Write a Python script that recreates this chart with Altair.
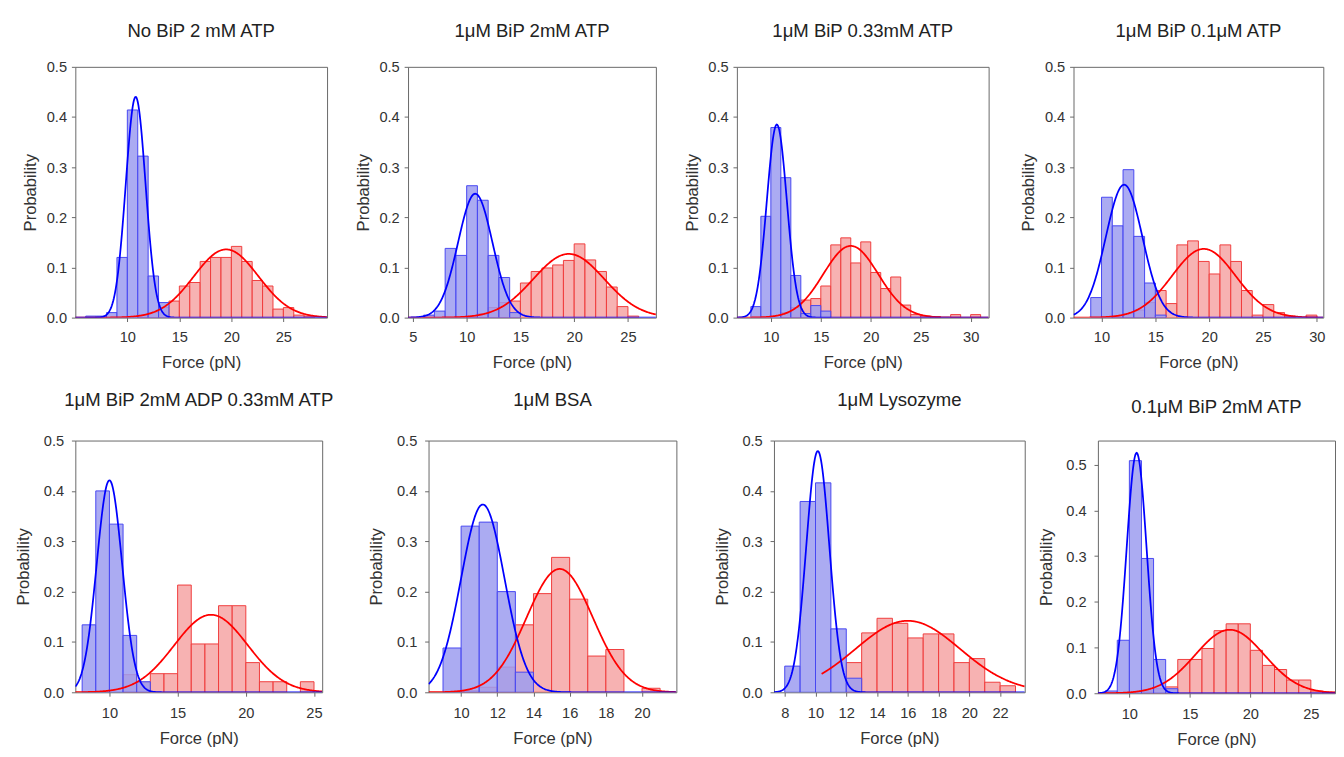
import altair as alt
import numpy as np
import pandas as pd

FONT = "Liberation Sans"

titles = ["No BiP 2 mM ATP", "1\u03bcM BiP 2mM ATP", "1\u03bcM BiP 0.33mM ATP", "1\u03bcM BiP 0.1\u03bcM ATP",
          "1\u03bcM BiP 2mM ADP 0.33mM ATP", "1\u03bcM BSA", "1\u03bcM Lysozyme", "0.1\u03bcM BiP 2mM ATP"]

x_domains = [[5.0, 29.2], [4.55, 27.6], [6.6, 31.8], [7.4, 30.6],
             [7.5, 25.6], [8.2, 21.9], [7.3, 23.6], [7.4, 27.0]]
x_ticks = [[10, 15, 20, 25], [5, 10, 15, 20, 25], [10, 15, 20, 25, 30], [10, 15, 20, 25, 30],
           [10, 15, 20, 25], [10, 12, 14, 16, 18, 20], [8, 10, 12, 14, 16, 18, 20, 22], [10, 15, 20, 25]]
y_tops = [0.5, 0.5, 0.5, 0.5, 0.5, 0.5, 0.5, 0.553]
y_ticks = [0.0, 0.1, 0.2, 0.3, 0.4, 0.5]

# histogram bins (width 1 pN), first bin start and probabilities
blue_start = [6, 6, 8, 9, 8, 9, 8, 8]
blue_prob = [
    [0.003, 0.003, 0.01, 0.12, 0.414, 0.322, 0.083, 0.03],
    [0.005, 0.013, 0.138, 0.124, 0.263, 0.234, 0.124, 0.08, 0.01],
    [0.022, 0.202, 0.379, 0.279, 0.084, 0.008, 0.024, 0.013],
    [0.04, 0.24, 0.183, 0.295, 0.162, 0.069, 0.005],
    [0.134, 0.4, 0.334, 0.113, 0.021],
    [0.088, 0.33, 0.338, 0.2, 0.04],
    [0.052, 0.379, 0.416, 0.126, 0.028],
    [0.005, 0.116, 0.509, 0.295, 0.074, 0.01],
]
red_start = [11, 10, 11, 11, 11, 10, 12, 11]
red_prob = [
    [0.005, 0.01, 0.02, 0.033, 0.063, 0.07, 0.112, 0.12, 0.12, 0.142, 0.112, 0.074, 0.063, 0.017, 0.02, 0.005, 0.003],
    [0.003, 0.008, 0.02, 0.03, 0.033, 0.069, 0.092, 0.099, 0.105, 0.114, 0.147, 0.115, 0.092, 0.061, 0.022, 0.003],
    [0.01, 0.02, 0.035, 0.038, 0.063, 0.145, 0.159, 0.109, 0.151, 0.09, 0.058, 0.081, 0.025, 0.006, 0.003, 0.002, 0, 0.006, 0, 0.006],
    [0.003, 0.008, 0.015, 0.03, 0.054, 0.028, 0.145, 0.153, 0.112, 0.087, 0.145, 0.112, 0.054, 0.005, 0.026, 0.01, 0.003, 0, 0.005],
    [0.035, 0.02, 0.037, 0.037, 0.213, 0.096, 0.096, 0.172, 0.172, 0.059, 0.021, 0.021, 0, 0.021],
    [0.003, 0.01, 0.05, 0.134, 0.196, 0.268, 0.185, 0.072, 0.085, 0, 0.008],
    [0.059, 0.118, 0.147, 0.137, 0.108, 0.116, 0.116, 0.059, 0.067, 0.02, 0.013],
    [0.005, 0.01, 0.014, 0.074, 0.074, 0.098, 0.137, 0.152, 0.152, 0.094, 0.061, 0.052, 0.029, 0.029, 0.005, 0.003],
]

# Gaussian fit parameters
blue_fit_mean = [10.8, 10.8, 10.6, 12.1, 10.0, 11.2, 10.15, 10.6]
blue_fit_sd = [0.95, 1.6, 1.0, 1.7, 0.93, 1.2, 0.75, 0.82]
blue_fit_peak = [0.44, 0.247, 0.385, 0.265, 0.421, 0.373, 0.479, 0.526]
red_fit_mean = [19.5, 19.5, 18.0, 19.5, 17.45, 15.45, 16.0, 18.3]
red_fit_sd = [3.1, 3.3, 2.75, 2.96, 2.7, 1.83, 3.4, 2.85]
red_fit_peak = [0.136, 0.127, 0.143, 0.137, 0.154, 0.245, 0.142, 0.139]
red_fit_from = [5.0, 4.55, 6.6, 7.4, 7.5, 8.2, 10.4, 7.4]

BLUE_LINE, BLUE_FILL, BLUE_EDGE = "#0000ff", "#9c9cf0", "#4646f2"
RED_LINE, RED_FILL, RED_EDGE = "#ff0000", "#f6a4a4", "#f03c3c"

widths = [258, 254, 258, 256, 253, 254, 257, 243]
heights = [257, 257, 257, 257, 258, 258, 258, 259]
title_offsets = [20, 20, 20, 20, 24, 24, 24, 24]


def bars_df(start, probs):
    rows = []
    for k, p in enumerate(probs):
        if p > 0:
            rows.append({"x": start + k, "x_end": start + k + 1, "p": p})
    return pd.DataFrame(rows)


def fit_df(mean, sd, peak, lo, hi):
    xs = np.linspace(lo, hi, 400)
    return pd.DataFrame({"x": xs, "p": peak * np.exp(-0.5 * ((xs - mean) / sd) ** 2)})


def panel(i, row):
    dom = x_domains[i]
    xs = alt.Scale(domain=dom, nice=False, zero=False)
    ys = alt.Scale(domain=[0, y_tops[i]], nice=False, zero=True)
    xaxis = alt.Axis(values=x_ticks[i], title="Force (pN)", format="d",
                     labelPadding=8 if row == 1 else 10, titlePadding=11 if row == 1 else 10)
    yaxis = alt.Axis(values=y_ticks, title="Probability", format=".1f",
                     labelPadding=5 if row == 1 else 8, titlePadding=7 if row == 1 else 11)
    X = alt.X("x:Q", scale=xs, axis=xaxis)
    Y = alt.Y("p:Q", scale=ys, axis=yaxis)

    rb = alt.Chart(bars_df(red_start[i], red_prob[i])).mark_rect(
        fill=RED_FILL, stroke=RED_EDGE, strokeWidth=1, fillOpacity=0.85, clip=True
    ).encode(x=X, x2="x_end:Q", y=Y, y2=alt.datum(0))
    bb = alt.Chart(bars_df(blue_start[i], blue_prob[i])).mark_rect(
        fill=BLUE_FILL, stroke=BLUE_EDGE, strokeWidth=1, fillOpacity=0.85, clip=True
    ).encode(x=X, x2="x_end:Q", y=Y, y2=alt.datum(0))
    rl = alt.Chart(fit_df(red_fit_mean[i], red_fit_sd[i], red_fit_peak[i], red_fit_from[i], dom[1])).mark_line(
        color=RED_LINE, strokeWidth=1.8, clip=True
    ).encode(x=X, y=Y)
    bl = alt.Chart(fit_df(blue_fit_mean[i], blue_fit_sd[i], blue_fit_peak[i], dom[0], dom[1])).mark_line(
        color=BLUE_LINE, strokeWidth=1.8, clip=True
    ).encode(x=X, y=Y)

    return alt.layer(rb, bb, rl, bl).properties(
        width=widths[i], height=heights[i],
        title=alt.TitleParams(titles[i], fontSize=19, font=FONT, fontWeight="normal", color="#222",
                              offset=title_offsets[i]),
    )


inner1 = alt.hconcat(*[panel(i, 1) for i in range(3)], spacing=26)
row1 = alt.hconcat(inner1, panel(3, 1), spacing=30)
pair2 = alt.hconcat(panel(4, 2), panel(5, 2), spacing=32)
inner2 = alt.hconcat(pair2, panel(6, 2), spacing=36)
row2 = alt.hconcat(inner2, panel(7, 2), spacing=11)

chart = alt.vconcat(row1, row2, spacing=20).properties(
    padding={"left": 6, "top": 4, "right": 0, "bottom": 0},
    background="white",
).configure_view(
    stroke="#666666", strokeWidth=1
).configure_axis(
    labelFont=FONT, labelFontSize=15, labelColor="#333",
    titleFont=FONT, titleFontSize=17, titleFontWeight="normal", titleColor="#333",
    tickColor="#666", tickSize=4, domain=False, grid=False,
).configure_title(anchor="middle")

chart.save("out.html", embed_options={"renderer": "svg", "actions": False})
